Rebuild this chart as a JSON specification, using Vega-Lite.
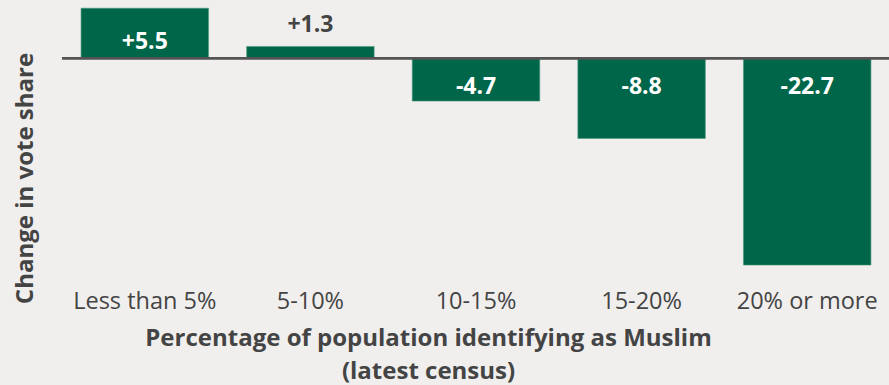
{
  "$schema": "https://vega.github.io/schema/vega-lite/v6.json",
  "width": 828,
  "height": 286,
  "autosize": {"type": "none"},
  "padding": {"left": 62, "top": 0, "right": 0, "bottom": 99},
  "background": "#f0efee",
  "config": {
    "view": {"stroke": null},
    "font": "Open Sans"
  },
  "data": {
    "values": [
      {"group": "Less than 5%", "value": 5.5, "label": "+5.5"},
      {"group": "5-10%", "value": 1.3, "label": "+1.3"},
      {"group": "10-15%", "value": -4.7, "label": "-4.7"},
      {"group": "15-20%", "value": -8.8, "label": "-8.8"},
      {"group": "20% or more", "value": -22.7, "label": "-22.7"}
    ]
  },
  "encoding": {
    "x": {
      "field": "group",
      "type": "nominal",
      "sort": null,
      "scale": {"paddingInner": 0.23, "paddingOuter": 0.115},
      "axis": {
        "labelAngle": 0,
        "labelFontSize": 23.5,
        "labelColor": "#444444",
        "labelPadding": 3,
        "ticks": false,
        "domain": false,
        "title": ["Percentage of population identifying as Muslim", "(latest census)"],
        "titleFontSize": 24,
        "titleFontWeight": "bold",
        "titleColor": "#444444",
        "titleLineHeight": 33,
        "titlePadding": 14,
        "titleX": 366,
        "titleAlign": "center"
      }
    }
  },
  "layer": [
    {
      "mark": {"type": "bar", "color": "#00664a", "stroke": "#4f9a7d", "strokeWidth": 0.6},
      "encoding": {
        "y": {
          "field": "value",
          "type": "quantitative",
          "scale": {"domain": [-25, 6.4], "nice": false, "zero": true},
          "axis": {
            "labels": false,
            "ticks": false,
            "domain": false,
            "grid": false,
            "title": "Change in vote share",
            "titleFontSize": 24,
            "titleFontWeight": "bold",
            "titleColor": "#444444",
            "titleX": -37,
            "titleY": 178,
            "titleBaseline": "middle",
            "titleAlign": "center"
          }
        }
      }
    },
    {
      "mark": {"type": "rule", "color": "#555555", "strokeWidth": 2},
      "encoding": {"y": {"datum": 0, "type": "quantitative"}, "x": {}}
    },
    {
      "transform": [{"filter": "datum.value < 0"}],
      "mark": {"type": "text", "color": "white", "fontWeight": "bold", "fontSize": 23, "dy": 29, "baseline": "middle"},
      "encoding": {"y": {"datum": 0, "type": "quantitative"}, "text": {"field": "label"}}
    },
    {
      "transform": [{"filter": "datum.value > 3"}],
      "mark": {"type": "text", "color": "white", "fontWeight": "bold", "fontSize": 23, "dy": -16, "baseline": "middle"},
      "encoding": {"y": {"datum": 0, "type": "quantitative"}, "text": {"field": "label"}}
    },
    {
      "transform": [{"filter": "datum.value > 0 && datum.value <= 3"}],
      "mark": {"type": "text", "color": "#444444", "fontWeight": "bold", "fontSize": 23, "dy": -21, "baseline": "middle"},
      "encoding": {"y": {"field": "value", "type": "quantitative"}, "text": {"field": "label"}}
    }
  ]
}
